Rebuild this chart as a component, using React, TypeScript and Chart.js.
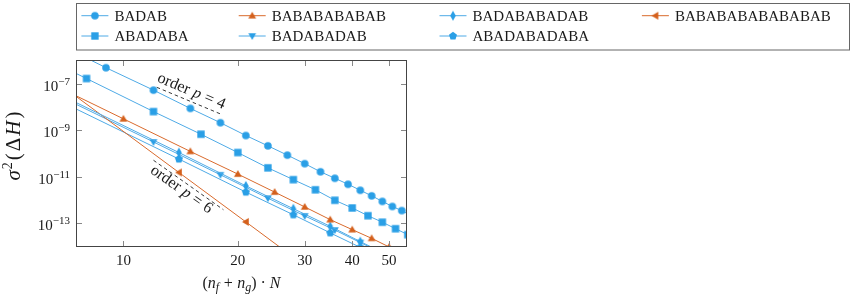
import React, { useEffect, useRef } from 'react';
import { Chart, registerables } from 'chart.js';

Chart.register(...registerables);

// ---- data (x = (n_f + n_g) * N, y = sigma^2(ΔH)) ----
const badabX = [6, 9, 12, 15, 18, 21, 24, 27, 30, 33, 36, 39, 42, 45, 48, 51, 54, 57];
const badabY = [1.41e-5, 5.13e-7, 5.5e-8, 8.9e-9, 2.14e-9, 6.0e-10, 2.14e-10, 8.5e-11, 3.63e-11, 1.62e-11, 8.5e-12, 4.68e-12, 2.57e-12, 1.48e-12, 8.5e-13, 5.13e-13, 3.39e-13, 2.09e-13];

const abadabaX = [4, 8, 12, 16, 20, 24, 28, 32, 36, 40, 44, 48, 52, 56];
const abadabaY = [4.5e-5, 1.74e-7, 6.5e-9, 6.8e-10, 1.1e-10, 2.4e-11, 7.4e-12, 2.7e-12, 9.5e-13, 4.4e-13, 2.04e-13, 1.07e-13, 5.6e-14, 3.1e-14];

const bab11X = [5, 10, 15, 20, 25, 30, 35, 40, 45, 50];
const bab11Y = [8.1e-7, 3.16e-9, 1.23e-10, 1.29e-11, 2.14e-12, 4.9e-13, 1.38e-13, 5.1e-14, 2.14e-14, 9.1e-15];

const bab15X = [7, 14, 21, 28];
const bab15Y = [6.9e-8, 1.51e-11, 1.1e-13, 3.3e-15];

const badab9X = [6, 12, 18, 24, 30, 36, 42, 48];
const badab9Y = [8.1e-8, 3.16e-10, 1.2e-11, 1.17e-12, 2.0e-13, 4.9e-14, 1.41e-14, 4.9e-15];

const badab11X = [7, 14, 21, 28, 35, 42, 49];
const badab11Y = [2.8e-8, 1.1e-10, 3.98e-12, 4.1e-13, 7.1e-14, 1.55e-14, 4.5e-15];

const abada11X = [7, 14, 21, 28, 35, 42];
const abada11Y = [1.48e-8, 5.75e-11, 2.14e-12, 2.24e-13, 3.7e-14, 8.7e-15];

// reference slopes
const order4X = [12.24, 17.97];
const order4Y = [7.3e-8, 5.2e-9];
const order6X = [12.0, 18.33];
const order6Y = [5.1e-11, 3.7e-13];

const xTicks = [10, 20, 30, 40, 50];
const yTicks = [1e-7, 1e-9, 1e-11, 1e-13];
const yTickExp = ['−7', '−9', '−11', '−13'];

const SERIF = '"Liberation Serif", "Times New Roman", Times, serif';
const BLUE_LINE = '#4eaae6';
const BLUE_MARK = '#2a9fe6';
const ORANGE_LINE = '#d96a2c';
const ORANGE_MARK = '#d4601c';
const TEXT = '#1a1a1a';

function poly(g: CanvasRenderingContext2D, r: number, startDeg: number, n: number) {
  for (let i = 0; i < n; i++) {
    const a = ((startDeg + (i * 360) / n) * Math.PI) / 180;
    const px = r * Math.cos(a);
    const py = r * Math.sin(a);
    if (i === 0) g.moveTo(px, py);
    else g.lineTo(px, py);
  }
  g.closePath();
}

function makeMarker(shape: string, color: string): HTMLCanvasElement {
  const c = document.createElement('canvas');
  c.width = 12;
  c.height = 12;
  const g = c.getContext('2d')!;
  g.fillStyle = color;
  g.translate(6, 6);
  g.beginPath();
  switch (shape) {
    case 'circle':
      g.arc(0, 0, 3.8, 0, Math.PI * 2);
      break;
    case 'square':
      g.rect(-3.7, -3.7, 7.4, 7.4);
      break;
    case 'triUp':
      g.translate(0, 0.6);
      poly(g, 4.5, -90, 3);
      break;
    case 'triDown':
      g.translate(0, -0.6);
      poly(g, 4.5, 90, 3);
      break;
    case 'triLeft':
      g.translate(0.6, 0);
      poly(g, 4.5, 180, 3);
      break;
    case 'pentagon':
      poly(g, 4.2, -90, 5);
      break;
    case 'diamond':
      g.moveTo(0, -4.9);
      g.lineTo(2.8, 0);
      g.lineTo(0, 4.9);
      g.lineTo(-2.8, 0);
      g.closePath();
      break;
  }
  g.fill();
  return c;
}

type Part = { t: string; f: string; dy?: number; sp?: number };

function partsWidth(ctx: CanvasRenderingContext2D, parts: Part[]) {
  let w = 0;
  for (const p of parts) {
    ctx.font = p.f;
    w += ctx.measureText(p.t).width + (p.sp || 0);
  }
  return w;
}

function drawParts(ctx: CanvasRenderingContext2D, parts: Part[], x: number, y: number, align: 'left' | 'center' | 'right') {
  const w = partsWidth(ctx, parts);
  let cx = align === 'left' ? x : align === 'center' ? x - w / 2 : x - w;
  ctx.textAlign = 'left';
  ctx.textBaseline = 'alphabetic';
  for (const p of parts) {
    ctx.font = p.f;
    ctx.fillText(p.t, cx, y + (p.dy || 0));
    cx += ctx.measureText(p.t).width + (p.sp || 0);
  }
}

const N15 = `15px ${SERIF}`;
const N11 = `11px ${SERIF}`;
const N16 = `16px ${SERIF}`;
const I16 = `italic 16px ${SERIF}`;
const I12 = `italic 12px ${SERIF}`;
const N21 = `21px ${SERIF}`;
const I21 = `italic 21px ${SERIF}`;
const N14 = `14px ${SERIF}`;

const legendColX = [81.4, 238.7, 439.5, 641.9];
const legendRowY = [15.7, 36];

export default function App() {
  const ref = useRef<HTMLCanvasElement | null>(null);

  useEffect(() => {
    if (!ref.current) return;
    const mk = {
      circle: makeMarker('circle', BLUE_MARK),
      square: makeMarker('square', BLUE_MARK),
      triUp: makeMarker('triUp', ORANGE_MARK),
      triLeft: makeMarker('triLeft', ORANGE_MARK),
      triDown: makeMarker('triDown', BLUE_MARK),
      diamond: makeMarker('diamond', BLUE_MARK),
      pentagon: makeMarker('pentagon', BLUE_MARK),
    };
    const pts = (xs: number[], ys: number[]) => xs.map((x, i) => ({ x, y: ys[i] }));
    const series = [
      { label: 'BADAB', xs: badabX, ys: badabY, color: BLUE_LINE, marker: mk.circle },
      { label: 'BABABABABAB', xs: bab11X, ys: bab11Y, color: ORANGE_LINE, marker: mk.triUp },
      { label: 'BADABABADAB', xs: badab11X, ys: badab11Y, color: BLUE_LINE, marker: mk.diamond },
      { label: 'BABABABABABABAB', xs: bab15X, ys: bab15Y, color: ORANGE_LINE, marker: mk.triLeft },
      { label: 'ABADABA', xs: abadabaX, ys: abadabaY, color: BLUE_LINE, marker: mk.square },
      { label: 'BADABADAB', xs: badab9X, ys: badab9Y, color: BLUE_LINE, marker: mk.triDown },
      { label: 'ABADABADABA', xs: abada11X, ys: abada11Y, color: BLUE_LINE, marker: mk.pentagon },
    ];

    const datasets: any[] = series.map((s) => ({
      label: s.label,
      data: pts(s.xs, s.ys),
      borderColor: s.color,
      backgroundColor: s.color,
      borderWidth: 1,
      pointStyle: s.marker,
      pointRadius: 4,
      tension: 0,
      fill: false,
    }));
    datasets.push(
      {
        label: 'order4',
        data: pts(order4X, order4Y),
        borderColor: '#222',
        borderWidth: 0.9,
        borderDash: [3.5, 3],
        pointRadius: 0,
        fill: false,
      },
      {
        label: 'order6',
        data: pts(order6X, order6Y),
        borderColor: '#222',
        borderWidth: 0.9,
        borderDash: [3.5, 3],
        pointRadius: 0,
        fill: false,
      }
    );

    const overlay = {
      id: 'overlay',
      afterDatasetsDraw(chart: any) {
        const ctx: CanvasRenderingContext2D = chart.ctx;
        const xs = chart.scales.x;
        const ys = chart.scales.y;
        const a = chart.chartArea;
        ctx.save();
        // frame
        ctx.strokeStyle = '#444';
        ctx.lineWidth = 1;
        ctx.strokeRect(a.left - 0.5, a.top - 0.5, a.right - a.left + 1, a.bottom - a.top + 1);
        // ticks
        ctx.strokeStyle = '#888';
        ctx.beginPath();
        const TL = 5;
        for (const t of xTicks) {
          const px = Math.round(xs.getPixelForValue(t)) + 0.5;
          ctx.moveTo(px, a.bottom);
          ctx.lineTo(px, a.bottom - TL);
          ctx.moveTo(px, a.top);
          ctx.lineTo(px, a.top + TL);
        }
        for (const t of yTicks) {
          const py = Math.round(ys.getPixelForValue(t)) + 0.5;
          ctx.moveTo(a.left, py);
          ctx.lineTo(a.left + TL, py);
          ctx.moveTo(a.right, py);
          ctx.lineTo(a.right - TL, py);
        }
        ctx.stroke();

        // tick labels
        ctx.fillStyle = TEXT;
        xTicks.forEach((t) => {
          const px = xs.getPixelForValue(t);
          drawParts(ctx, [{ t: String(t), f: N15 }], px, a.bottom + 19, 'center');
        });
        yTicks.forEach((t, i) => {
          const py = ys.getPixelForValue(t);
          drawParts(
            ctx,
            [
              { t: '10', f: N15 },
              { t: yTickExp[i], f: N11, dy: -6 },
            ],
            a.left - 7,
            py + 7,
            'right'
          );
        });

        // axis titles
        drawParts(
          ctx,
          [
            { t: '(', f: N16 },
            { t: 'n', f: I16 },
            { t: 'f', f: I12, dy: 3, sp: 4.5 },
            { t: '+', f: N16, sp: 4.5 },
            { t: 'n', f: I16 },
            { t: 'g', f: I12, dy: 3 },
            { t: ')', f: N16, sp: 4 },
            { t: '·', f: N16, sp: 4 },
            { t: 'N', f: I16 },
          ],
          (a.left + a.right) / 2,
          288,
          'center'
        );
        ctx.save();
        ctx.translate(20, 146);
        ctx.rotate(-Math.PI / 2);
        drawParts(
          ctx,
          [
            { t: 'σ', f: I21, sp: 1 },
            { t: '2', f: N14, dy: -8, sp: 2 },
            { t: '(', f: N21, sp: 2 },
            { t: 'Δ', f: N21, sp: 2 },
            { t: 'H', f: I21, sp: 2 },
            { t: ')', f: N21 },
          ],
          0,
          0,
          'center'
        );
        ctx.restore();

        // order annotations
        const ann = (lx: number[], ly: number[], tx: number, ty: number, label: string) => {
          const x0 = xs.getPixelForValue(lx[0]);
          const y0 = ys.getPixelForValue(ly[0]);
          const x1 = xs.getPixelForValue(lx[1]);
          const y1 = ys.getPixelForValue(ly[1]);
          const ang = Math.atan2(y1 - y0, x1 - x0);
          ctx.save();
          ctx.translate(xs.getPixelForValue(tx), ys.getPixelForValue(ty));
          ctx.rotate(ang);
          drawParts(
            ctx,
            [
              { t: 'order', f: N16, sp: 4.5 },
              { t: 'p', f: I16, sp: 4.5 },
              { t: '=', f: N16, sp: 4.5 },
              { t: label, f: N16 },
            ],
            0,
            0,
            'center'
          );
          ctx.restore();
        };
        ann(order4X, order4Y, 14.95, 3.3e-8, '4');
        ann(order6X, order6Y, 14.0, 1.95e-12, '6');

        // legend
        ctx.strokeStyle = '#666';
        ctx.lineWidth = 1;
        ctx.strokeRect(76.5, 3.5, 773, 46.5);
        series.forEach((s, i) => {
          const col = i % 4;
          const row = Math.floor(i / 4);
          const x0 = legendColX[col];
          const y0 = legendRowY[row];
          ctx.strokeStyle = s.color;
          ctx.lineWidth = 1;
          ctx.beginPath();
          ctx.moveTo(x0, y0);
          ctx.lineTo(x0 + 27, y0);
          ctx.stroke();
          ctx.drawImage(s.marker, x0 + 13.5 - 6, y0 - 6);
          ctx.fillStyle = TEXT;
          drawParts(ctx, [{ t: s.label, f: N15 }], x0 + 33, y0 + 5, 'left');
        });
        ctx.restore();
      },
    };

    const chart = new Chart(ref.current, {
      type: 'line',
      data: { datasets },
      options: {
        animation: false,
        responsive: false,
        devicePixelRatio: 1,
        events: [],
        layout: { padding: { left: 77, top: 61, right: 447, bottom: 51 } },
        plugins: { legend: { display: false }, tooltip: { enabled: false } },
        scales: {
          x: { type: 'logarithmic', min: 7.55, max: 55.4, display: false },
          y: { type: 'logarithmic', min: 1e-14, max: 1e-6, display: false },
        },
      },
      plugins: [overlay],
    });
    return () => chart.destroy();
  }, []);

  return (
    <div style={{ position: 'fixed', left: 0, top: 0, width: 853, height: 297, background: '#fff' }}>
      <canvas ref={ref} width={853} height={297} style={{ width: 853, height: 297, display: 'block' }} />
    </div>
  );
}
